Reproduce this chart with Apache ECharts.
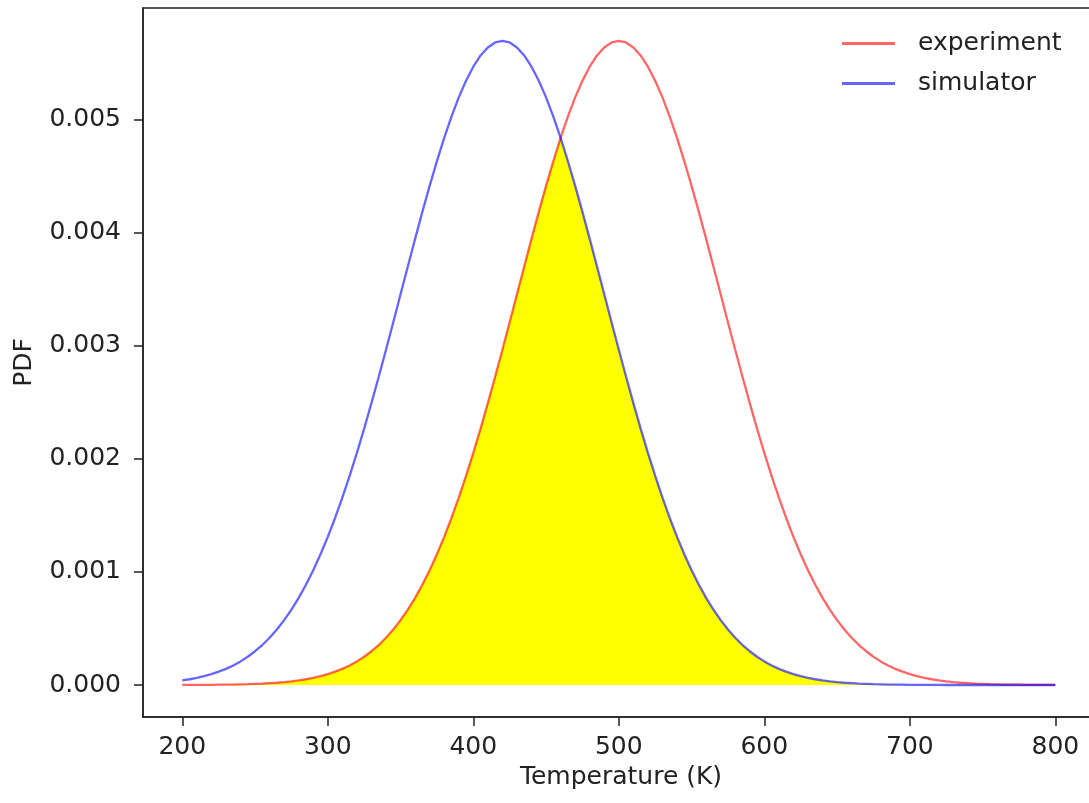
<!DOCTYPE html>
<html>
<head>
<meta charset="utf-8">
<script src="https://cdn.jsdelivr.net/npm/echarts@6/dist/echarts.min.js"></script>
<style>
html,body{margin:0;padding:0;background:#fff;overflow:hidden;width:1089px;height:803px;}
#chart{width:1110px;height:803px;}
</style>
</head>
<body>
<div id="chart"></div>
<script>
// Temperature (K) sample points, step 5
const temperatures = [200,205,210,215,220,225,230,235,240,245,250,255,260,265,270,275,280,285,290,295,300,305,310,315,320,325,330,335,340,345,350,355,360,365,370,375,380,385,390,395,400,405,410,415,420,425,430,435,440,445,450,455,460,465,470,475,480,485,490,495,500,505,510,515,520,525,530,535,540,545,550,555,560,565,570,575,580,585,590,595,600,605,610,615,620,625,630,635,640,645,650,655,660,665,670,675,680,685,690,695,700,705,710,715,720,725,730,735,740,745,750,755,760,765,770,775,780,785,790,795,800];
// PDF values
const experiment = [
0.000001,0.000001,0.000001,0.000001,0.000002,0.000003,0.000003,0.000004,0.000006,0.000007,
0.000010,0.000012,0.000016,0.000020,0.000026,0.000033,0.000041,0.000051,0.000063,0.000078,
0.000096,0.000118,0.000143,0.000173,0.000209,0.000250,0.000299,0.000354,0.000418,0.000491,
0.000574,0.000667,0.000771,0.000887,0.001016,0.001157,0.001311,0.001478,0.001658,0.001850,
0.002054,0.002269,0.002494,0.002727,0.002966,0.003210,0.003457,0.003703,0.003947,0.004186,
0.004416,0.004635,0.004841,0.005029,0.005199,0.005347,0.005471,0.005570,0.005641,0.005685,
0.005699,
0.005685,0.005641,0.005570,0.005471,0.005347,0.005199,0.005029,0.004841,0.004635,0.004416,
0.004186,0.003947,0.003703,0.003457,0.003210,0.002966,0.002727,0.002494,0.002269,0.002054,
0.001850,0.001658,0.001478,0.001311,0.001157,0.001016,0.000887,0.000771,0.000667,0.000574,
0.000491,0.000418,0.000354,0.000299,0.000250,0.000209,0.000173,0.000143,0.000118,0.000096,
0.000078,0.000063,0.000051,0.000041,0.000033,0.000026,0.000020,0.000016,0.000012,0.000010,
0.000007,0.000006,0.000004,0.000003,0.000003,0.000002,0.000001,0.000001,0.000001,0.000001];
const simulator = [
0.000041,0.000051,0.000063,0.000078,0.000096,0.000118,0.000143,0.000173,0.000209,0.000250,
0.000299,0.000354,0.000418,0.000491,0.000574,0.000667,0.000771,0.000887,0.001016,0.001157,
0.001311,0.001478,0.001658,0.001850,0.002054,0.002269,0.002494,0.002727,0.002966,0.003210,
0.003457,0.003703,0.003947,0.004186,0.004416,0.004635,0.004841,0.005029,0.005199,0.005347,
0.005471,0.005570,0.005641,0.005685,0.005699,
0.005685,0.005641,0.005570,0.005471,0.005347,0.005199,0.005029,0.004841,0.004635,0.004416,
0.004186,0.003947,0.003703,0.003457,0.003210,0.002966,0.002727,0.002494,0.002269,0.002054,
0.001850,0.001658,0.001478,0.001311,0.001157,0.001016,0.000887,0.000771,0.000667,0.000574,
0.000491,0.000418,0.000354,0.000299,0.000250,0.000209,0.000173,0.000143,0.000118,0.000096,
0.000078,0.000063,0.000051,0.000041,0.000033,0.000026,0.000020,0.000016,0.000012,0.000010,
0.000007,0.000006,0.000004,0.000003,0.000003,0.000002,0.000001,0.000001,0.000001,0.000001,
0,0,0,0,0,0,0,0,0,0,0,0,0,0,0,0];
const xTicks = [200,300,400,500,600,700,800];
const yTicks = [0,0.001,0.002,0.003,0.004,0.005];
const seriesNames = ['experiment','simulator'];

const overlap = temperatures.map((t,i)=>[t, Math.min(experiment[i], simulator[i])]);
const expData = temperatures.map((t,i)=>[t, experiment[i]]);
const simData = temperatures.map((t,i)=>[t, simulator[i]]);

const font = 'DejaVu Sans';
const fs = 25;
const ink = '#222';
const chart = echarts.init(document.getElementById('chart'), null, {renderer:'canvas'});
chart.setOption({
  animation:false,
  backgroundColor:'#fff',
  grid:{left:143, top:8, width:956, height:709, show:true, borderColor:ink, borderWidth:1.5, containLabel:false},
  xAxis:{
    type:'value', min:173, max:830,
    name:'Temperature (K)', nameLocation:'middle', nameGap:45,
    nameTextStyle:{fontFamily:font, fontSize:fs, color:ink},
    axisLine:{show:true, onZero:false, lineStyle:{color:ink, width:1.5}},
    axisTick:{show:true, inside:false, length:9, customValues:xTicks, lineStyle:{color:ink, width:1.5}},
    axisLabel:{customValues:xTicks, margin:18, fontFamily:font, fontSize:fs, color:ink},
    splitLine:{show:false}
  },
  yAxis:{
    type:'value', min:-0.000283, max:0.00599,
    name:'PDF', nameLocation:'middle', nameGap:106, nameRotate:90,
    nameTextStyle:{fontFamily:font, fontSize:fs, color:ink},
    axisLine:{show:true, onZero:false, lineStyle:{color:ink, width:1.5}},
    axisTick:{show:true, inside:false, length:9, customValues:yTicks, lineStyle:{color:ink, width:1.5}},
    axisLabel:{customValues:yTicks, margin:22, fontFamily:font, fontSize:fs, color:ink, formatter:v=>v.toFixed(3)},
    splitLine:{show:false}
  },
  legend:{
    data:seriesNames, orient:'vertical', left:837, top:26, itemGap:15,
    icon:'rect', itemWidth:53, itemHeight:3,
    textStyle:{fontFamily:font, fontSize:fs, color:ink, padding:[0,0,0,18]}
  },
  series:[
    {type:'line', name:'overlap', data:overlap, symbol:'none', lineStyle:{width:0}, areaStyle:{color:'#ffff00', opacity:1}, z:1, silent:true},
    {type:'line', name:seriesNames[0], data:expData, symbol:'none', color:'rgba(255,0,0,0.6)', lineStyle:{color:'rgba(255,0,0,0.6)', width:2.3}, z:3},
    {type:'line', name:seriesNames[1], data:simData, symbol:'none', color:'rgba(0,0,255,0.6)', lineStyle:{color:'rgba(0,0,255,0.6)', width:2.3}, z:3}
  ]
});
</script>
</body>
</html>
